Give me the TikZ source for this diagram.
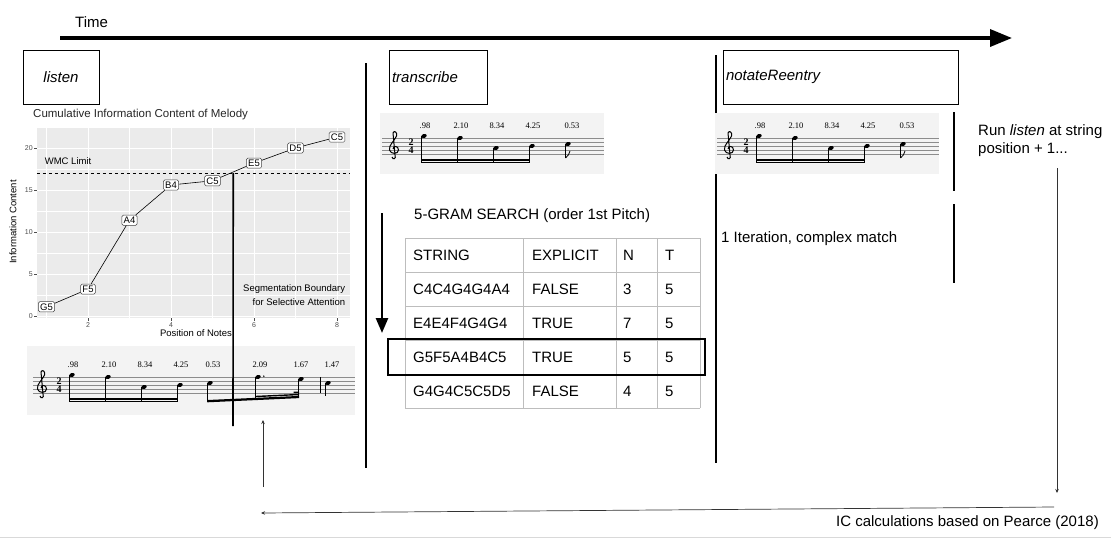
\documentclass[tikz,border=0pt]{standalone}
\usepackage{fontspec}
\setmainfont{Liberation Sans}
\newfontfamily\scorefont{Liberation Serif}
\usetikzlibrary{arrows.meta,positioning}
\definecolor{panelbg}{HTML}{EBEBEB}
\definecolor{scorebg}{HTML}{F3F3F3}
\definecolor{axisgrey}{HTML}{4D4D4D}
\definecolor{tablegrey}{HTML}{BDBDBD}
\tikzset{
  stage/.style     = {draw, line width=0.7pt, minimum height=54pt, inner xsep=3pt,
                      font=\fontsize{15}{17}\selectfont\itshape},
  txt/.style       = {font=\fontsize{15}{18}\selectfont, inner sep=0pt},
  divider/.style   = {line width=1.6pt},
  bigar/.style     = {-{Triangle[length=22pt,width=17pt]}, line width=3.5pt},
  downar/.style    = {-{Triangle[length=15pt,width=12pt]}, line width=2.6pt},
  thinar/.style    = {-{Stealth[length=4pt,width=3.5pt]}, line width=0.7pt, draw=black!80},
  ptlbl/.style     = {draw=black!75, fill=white, rounded corners=1.5pt, inner sep=1.8pt,
                      font=\fontsize{9.5}{9.5}\selectfont, line width=0.5pt},
  ticklbl/.style   = {font=\fontsize{7}{7}\selectfont, text=axisgrey, inner sep=1pt},
  axlbl/.style     = {font=\fontsize{9.5}{9.5}\selectfont, inner sep=0pt},
  gridmaj/.style   = {white, line width=0.9pt},
  gridmin/.style   = {white, line width=0.4pt},
  ictext/.style    = {font=\scorefont\fontsize{8.5}{8.5}\selectfont, inner sep=0pt},
  tsig/.style      = {font=\scorefont\bfseries\fontsize{10}{8}\selectfont, inner sep=0pt,
                      align=center},
  staffline/.style = {draw=black!45, line width=0.45pt},
  stem/.style      = {line width=0.65pt},
  cell/.style      = {font=\fontsize{15}{17}\selectfont, anchor=west, inner sep=0pt},
}
% note head at (x,y), staff top line at y=0
\newcommand\nhead[2]{\fill[rotate around={20:(#1,#2)}] (#1,#2) ellipse (2.8pt and 2pt);}
% clef, 2/4 and the four beamed notes; #1 = name prefix
\newcommand\motif[1]{%
  \draw[line width=1pt] (10,19) .. controls (11,22.5) and (14.5,20.5) .. (13,17)
    -- (11,-5) .. controls (12,-8) and (15.5,-6) .. (14.5,-2)
    .. controls (12.5,3) and (6.5,7) .. (7.5,12)
    .. controls (8.5,16.5) and (16.5,16.5) .. (16.5,12)
    .. controls (16.5,7.5) and (11,7.5) .. (11,11);
  \node[tsig] (#1-ts) at (29,8) {2\\4};
  \foreach \nx/\ny/\ic [count=\k] in {42/-2/.98, 78/0/2.10, 114/10/8.34, 150/8/4.25}{
    \nhead{\nx}{\ny}
    \draw[stem] (\nx-2.4,\ny) -- (\nx-2.4,25);
    \node[ictext] (#1-ic\k) at (\nx+1,-12) {\ic};
  }
  \fill (39.3,21.3) rectangle (148,22.9);
  \fill (39.3,23.5) rectangle (148,25.1);
}

\begin{document}
\begin{tikzpicture}[x=1pt, y=-1pt]
  \useasboundingbox (0,0) rectangle (1111,539);

  % time line
  \node[txt, anchor=west] (time) at (75,22) {Time};
  \coordinate (t0) at (60,38);
  \coordinate (t1) at (1012,38);
  \draw[bigar] (t0) -- (t1);

  % stages
  \node[stage, text width=70pt, align=center] (listen) at (61,77) {listen};
  \node[stage, text width=92pt, align=left] (transcribe) at (438,77) {transcribe};
  \node[stage, text width=229pt, align=left] (reentry) at (840.5,77) {notateReentry};
  \draw[divider] (366,63) -- (366,468);
  \draw[divider] (716,55) -- (716,463);

  % cumulative IC plot
  \node[anchor=west, inner sep=0pt, font=\fontsize{11.5}{12}\selectfont, text=black!85]
    (title) at (33,115) {Cumulative Information Content of Melody};
  \node[axlbl, rotate=90] (ylab) at (13,222) {Information Content};
  \node[axlbl] (xlab) at (196,333) {Position of Notes};
  \begin{scope}[shift={(5,316)}, x=41.5pt, y=8.4pt]
    \fill[panelbg] (0.77,-0.24) rectangle (8.31,22.4);
    \foreach \v in {2.5,7.5,12.5,17.5} \draw[gridmin] (0.77,\v) -- (8.31,\v);
    \foreach \p in {1,3,5,7} \draw[gridmin] (\p,-0.24) -- (\p,22.4);
    \foreach \v in {0,5,...,20}{
      \draw[gridmaj] (0.77,\v) -- (8.31,\v);
      \draw[axisgrey, line width=0.5pt] (0.77,\v) -- ++(-3pt,0) node[ticklbl, anchor=east] (yt\v) {\v};
    }
    \foreach \p in {2,4,6,8}{
      \draw[gridmaj] (\p,-0.24) -- (\p,22.4);
      \draw[axisgrey, line width=0.5pt] (\p,-0.24) -- ++(0,-3pt) node[ticklbl, anchor=north] (xt\p) {\p};
    }
    \draw[line width=1.3pt, dash pattern=on 3.5pt off 2.5pt] (0.77,17) -- (8.31,17);
    \coordinate (segtop) at (5.5,17);
    \node[axlbl] (wmc) at (1.52,18.45) {WMC Limit};
    \node[axlbl, anchor=east, align=right, font=\fontsize{9.5}{14}\selectfont]
      (seg) at (8.2,2.5) {Segmentation Boundary\\for Selective Attention};
    \node[ptlbl] (g5) at (1,1.1) {G5};
    \node[ptlbl] (f5) at (2,3.2) {F5};
    \node[ptlbl] (a4) at (3,11.4) {A4};
    \node[ptlbl] (b4) at (4,15.6) {B4};
    \node[ptlbl] (c5a) at (5,16.1) {C5};
    \node[ptlbl] (e5) at (6,18.2) {E5};
    \node[ptlbl] (d5) at (7,20) {D5};
    \node[ptlbl] (c5b) at (8,21.3) {C5};
    \draw[line width=0.6pt] (g5) -- (f5) -- (a4) -- (b4) -- (c5a) -- (e5) -- (d5) -- (c5b);
  \end{scope}

  % melody under the plot
  \begin{scope}[shift={(30,377)}]
    \fill[scorebg] (-3,-31) rectangle (325,38);
    \foreach \l in {0,4,...,16} \draw[staffline] (3,\l) -- (325,\l);
    \motif{li}
    \nhead{180}{6}
    \draw[stem] (177.6,6) -- (177.6,25);
    \nhead{228}{0}
    \fill (233.8,-0.8) circle (0.8pt);
    \draw[stem] (225.6,0) -- (225.6,22);
    \nhead{271}{2}
    \draw[stem] (268.6,2) -- (268.6,20.5);
    \fill (177.3,23.0) -- (269.2,18.9) -- (269.2,21.1) -- (177.3,25.3) -- cycle;
    \fill (225.6,18.8) -- (269.2,16.8) -- (269.2,18.2) -- (225.6,20.2) -- cycle;
    \fill (263.5,14.7) -- (269.2,14.5) -- (269.2,15.9) -- (263.5,16.1) -- cycle;
    \draw[line width=0.7pt] (290,0) -- (290,16);
    \nhead{298}{6}
    \draw[stem] (295.6,6) -- (295.6,19);
    \foreach \nx/\ic [count=\k from 5] in {183/0.53, 230/2.09, 271/1.67, 302/1.47}
      \node[ictext] (li-ic\k) at (\nx,-12) {\ic};
  \end{scope}
  \coordinate (segbot) at (233,426);
  \draw[line width=1.6pt] (segtop) -- (segbot);

  % melody in transcribe and notateReentry
  \foreach \sx/\nm in {382/tr, 717/nr}{
    \begin{scope}[shift={(\sx,138)}]
      \fill[scorebg] (-2,-25) rectangle (222,36);
      \foreach \l in {0,4,...,16} \draw[staffline] (0,\l) -- (222,\l);
      \motif{\nm}
      \nhead{186}{6}
      \draw[stem] (183.6,6) -- (183.6,20);
      \draw[line width=0.8pt] (183.6,20) .. controls (185,17) and (188.5,16.5) .. (188,13);
      \node[ictext] (\nm-ic5) at (190,-12) {0.53};
    \end{scope}
  }

  % 5-gram search table
  \coordinate (s0) at (382,213);
  \coordinate (s1) at (382,333);
  \draw[downar] (s0) -- (s1);
  \node[cell] (gram) at (414,216) {5-GRAM SEARCH (order 1st Pitch)};
  \foreach \y in {238,272,306,340,374,408} \draw[tablegrey, line width=0.6pt] (405,\y) -- (700,\y);
  \foreach \x in {405,523,616,657,700} \draw[tablegrey, line width=0.6pt] (\x,238) -- (\x,408);
  \foreach \s/\e/\n/\t [count=\r] in {STRING/EXPLICIT/N/T, C4C4G4G4A4/FALSE/3/5,
      E4E4F4G4G4/TRUE/7/5, G5F5A4B4C5/TRUE/5/5, G4G4C5C5D5/FALSE/4/5}{
    \node[cell] (str\r) at (413,221+34*\r) {\s};
    \node[cell] (exp\r) at (532,221+34*\r) {\e};
    \node[cell] (n\r) at (623,221+34*\r) {\n};
    \node[cell] (t\r) at (665,221+34*\r) {\t};
  }
  \draw[line width=2.6pt] (388,339) rectangle (705,375);

  % notateReentry column
  \node[cell] (iter) at (721,239) {1 Iteration, complex match};
  \draw[divider] (954,112) -- (954,191);
  \draw[divider] (954,204) -- (954,283);
  \node[txt, anchor=west, align=left] (rerun) at (978,141) {Run \textit{listen} at string\\position + 1...};

  % loop back to listen
  \coordinate (r0) at (1057,168);
  \coordinate (r1) at (1057,493);
  \coordinate (b0) at (1054,507);
  \coordinate (b1) at (261,513);
  \coordinate (u0) at (263,487);
  \coordinate (u1) at (263,420);
  \draw[thinar] (r0) -- (r1);
  \draw[thinar] (b0) -- (b1);
  \draw[thinar] (u0) -- (u1);
  \node[txt, anchor=east] (pearce) at (1099,523) {IC calculations based on Pearce (2018)};
  \draw[black!15, line width=1.5pt] (0,537.5) -- (1111,537.5);
\end{tikzpicture}
\end{document}
